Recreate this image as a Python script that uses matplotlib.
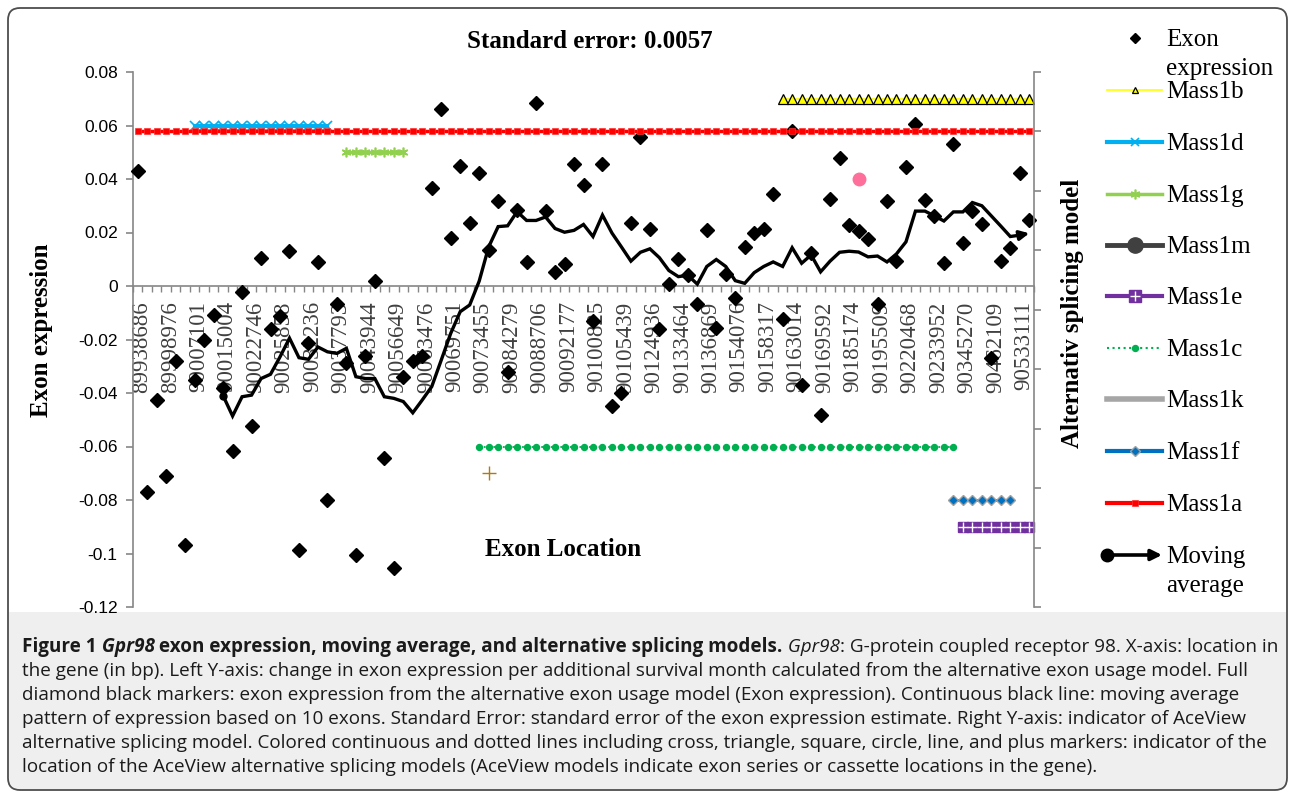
import matplotlib
matplotlib.use('Agg')
import matplotlib.pyplot as plt
import matplotlib.transforms as mtransforms
import numpy as np
from matplotlib.patches import FancyBboxPatch, Rectangle

W, H = 1293, 794

# exon expression, one value per exon (x = exon order)
exon_expr = [0.0430, -0.0771, -0.0425, -0.0709, -0.0280, -0.0970, -0.0351, -0.0202, -0.0108, -0.0382,
             -0.0617, -0.0022, -0.0524, 0.0106, -0.0162, -0.0112, 0.0132, -0.0988, -0.0212, 0.0090,
             -0.0800, -0.0068, -0.0287, -0.1007, -0.0263, 0.0018, -0.0643, -0.1056, -0.0340, -0.0279,
             -0.0262, 0.0368, 0.0662, 0.0179, 0.0450, 0.0235, 0.0423, 0.0135, 0.0318, -0.0320,
             0.0284, 0.0090, 0.0685, 0.0280, 0.0053, 0.0082, 0.0456, 0.0377, -0.0130, 0.0456,
             -0.0447, -0.0400, 0.0235, 0.0557, 0.0212, -0.0159, 0.0007, 0.0101, 0.0042, -0.0069,
             0.0209, -0.0156, 0.0046, -0.0046, 0.0146, 0.0198, 0.0214, 0.0344, -0.0122, 0.0580,
             -0.0370, 0.0122, -0.0483, 0.0327, 0.0479, 0.0229, 0.0205, 0.0175, -0.0066, 0.0318,
             0.0095, 0.0443, 0.0604, 0.0323, 0.0263, 0.0086, 0.0530, 0.0160, 0.0279, 0.0230,
             -0.0271, 0.0095, 0.0141, 0.0423, 0.0245]

# moving average over 10 exons, starts at the 10th exon
ma_start = 9
moving_avg = [-0.0410, -0.0486, -0.0414, -0.0408, -0.0346, -0.0330, -0.0265, -0.0195, -0.0268, -0.0274,
              -0.0228, -0.0246, -0.0252, -0.0233, -0.0339, -0.0346, -0.0346, -0.0414, -0.0420, -0.0432,
              -0.0474, -0.0426, -0.0376, -0.0277, -0.0177, -0.0096, -0.0071, 0.0018, 0.0146, 0.0222,
              0.0225, 0.0278, 0.0245, 0.0245, 0.0258, 0.0215, 0.0201, 0.0208, 0.0230, 0.0185,
              0.0265, 0.0198, 0.0146, 0.0093, 0.0126, 0.0139, 0.0106, 0.0058, 0.0035, 0.0040,
              0.0007, 0.0073, 0.0099, 0.0073, 0.0020, 0.0010, 0.0050, 0.0073, 0.0090, 0.0073,
              0.0143, 0.0085, 0.0116, 0.0053, 0.0093, 0.0126, 0.0130, 0.0127, 0.0109, 0.0112,
              0.0090, 0.0120, 0.0165, 0.0280, 0.0280, 0.0262, 0.0243, 0.0277, 0.0277, 0.0312,
              0.0300, 0.0262, 0.0224, 0.0185, 0.0190, 0.0197]

tick_pos = list(range(0, 95, 3))
tick_labels = ['89938686', '89998976', '90007101', '90015004', '90022746', '90025858', '90032236',
               '90037793', '90043944', '90056649', '90063476', '90069751', '90073455', '90084279',
               '90088706', '90092177', '90100825', '90105439', '90124936', '90133464', '90136869',
               '90154076', '90158317', '90163014', '90169592', '90185174', '90195509', '90220468',
               '90233952', '90345270', '90462109', '90533111']

# AceView splicing models: first exon, last exon, level drawn at
model_names = ['Mass1b', 'Mass1d', 'Mass1g', 'Mass1c', 'Mass1f', 'Mass1e', 'Mass1a']
model_first = [68, 6, 22, 36, 86, 87, 0]
model_last = [94, 20, 28, 86, 92, 94, 94]
model_level = [0.07, 0.06, 0.05, -0.06, -0.08, -0.09, 0.058]
# single-exon models
mass1m_pos, mass1m_level = [76], [0.04]
mass1k_pos, mass1k_level = [37], [-0.07]

yticks = [-0.12, -0.1, -0.08, -0.06, -0.04, -0.02, 0, 0.02, 0.04, 0.06, 0.08]
ytick_labels = ['-0.12', '-0.1', '-0.08', '-0.06', '-0.04', '-0.02', '0', '0.02', '0.04', '0.06', '0.08']

serif = 'Liberation Serif'
sans = 'Liberation Sans'
grey = '#868686'

styles = {
    'Mass1b': dict(color='#ffff00', lw=1.2, marker='^', ms=6.5, mfc='#ffff00', mec='black', mew=0.9),
    'Mass1d': dict(color='#00b0f0', lw=3.0, marker='x', ms=6.5, mew=1.2),
    'Mass1g': dict(color='#92d050', lw=2.5, marker=(6, 2, 0), ms=7, mew=1.2),
    'Mass1c': dict(color='#00b050', lw=1.3, ls=':', marker='o', ms=4.3),
    'Mass1f': dict(color='#0070c0', lw=2.0, marker='D', ms=5.5, mfc='#0070c0', mec='#a0a0a0', mew=1.0),
    'Mass1e': dict(color='#7030a0', lw=3.0, marker='s', ms=6.8, mfc='#7030a0', mec='#7030a0'),
    'Mass1a': dict(color='#ff0000', lw=2.5, marker='s', ms=5.0, mfc='#ff0000', mec='#ff3030', mew=0.5),
}

fig = plt.figure(figsize=(W / 100, H / 100), dpi=100)

# background overlay in pixel units: frame, caption strip, legend
bg = fig.add_axes([0, 0, 1, 1], zorder=0)
bg.set_xlim(0, W)
bg.set_ylim(H, 0)
bg.axis('off')
bg.add_patch(FancyBboxPatch((9, 590), 1277, 199, boxstyle='round,pad=0,rounding_size=11',
                            fc='#efefef', ec='none'))
bg.add_patch(Rectangle((9, 580), 1277, 32, fc='white', ec='none'))
bg.add_patch(FancyBboxPatch((8, 8), 1279, 782, boxstyle='round,pad=0,rounding_size=12',
                            fill=False, ec='#4d4d4d', lw=1.3))

ax = fig.add_axes([133 / W, 1 - 607 / H, (1034 - 133) / W, (607 - 72) / H], zorder=1)
ax.set_facecolor('none')
x = np.arange(len(exon_expr))

ax.plot(x, exon_expr, ls='none', marker='D', ms=7.5, color='black', zorder=4, clip_on=False)

xm = np.arange(ma_start, ma_start + len(moving_avg))
ax.plot(xm[:-1], moving_avg[:-1], color='black', lw=2.4, zorder=5, solid_joinstyle='miter')
ax.plot(xm[0], moving_avg[0], 'o', color='black', ms=5, zorder=5)
ax.annotate('', xy=(xm[-1], moving_avg[-1]), xytext=(xm[-2], moving_avg[-2]),
            arrowprops=dict(arrowstyle='-|>', color='black', lw=2.4, mutation_scale=14,
                            shrinkA=0, shrinkB=0), zorder=5)

for name, a, b, lev in zip(model_names, model_first, model_last, model_level):
    xs = np.arange(a, b + 1)
    z = 7 if name == 'Mass1a' else 6
    ax.plot(xs, [lev] * len(xs), zorder=z, clip_on=False, **styles[name])
    if name == 'Mass1e':
        ax.plot(xs, [lev] * len(xs), ls='none', marker='+', ms=6.5, mew=1.0, color='white',
                zorder=z, clip_on=False)

ax.plot(mass1m_pos, mass1m_level, ls='none', marker='o', ms=9, color='#ff6f9c', zorder=6)
ax.plot(mass1k_pos, mass1k_level, ls='none', marker='+', ms=10, mew=1.0, color='#b07a10', zorder=6)

ax.set_xlim(-0.5, 94.5)
ax.set_ylim(-0.12, 0.08)
ax.spines['top'].set_visible(False)
ax.spines['right'].set_visible(False)
ax.spines['bottom'].set_position(('data', 0))
for s in ('left', 'bottom'):
    ax.spines[s].set_color(grey)
    ax.spines[s].set_linewidth(1.2)

ax.set_yticks(yticks)
ax.set_yticklabels(ytick_labels, fontfamily=sans, fontsize=12.5)
ax.tick_params(axis='y', direction='out', length=5, width=1.2, color=grey, pad=6)

ax.set_xticks(tick_pos)
ax.set_xticklabels(tick_labels, rotation=90, fontfamily=serif, fontsize=16.5, color='#404040')
ax.set_xticks(np.arange(-0.5, 95, 1), minor=True)
ax.tick_params(axis='x', which='major', length=0, pad=11)
ax.tick_params(axis='x', which='minor', direction='out', length=4.5, width=1.0, color=grey)
shift = mtransforms.ScaledTranslation(4 / 100, 0, fig.dpi_scale_trans)
for lab in ax.get_xticklabels():
    lab.set_transform(lab.get_transform() + shift)

tw = ax.twinx()
tw.set_zorder(1)
tw.set_ylim(0, 9)
tw.set_yticks(range(10))
tw.set_yticklabels([])
for s in ('left', 'top', 'bottom'):
    tw.spines[s].set_visible(False)
tw.spines['right'].set_color(grey)
tw.spines['right'].set_linewidth(1.2)
tw.tick_params(axis='y', direction='out', length=5, width=1.2, color=grey)

# chart texts
fig.text(590 / W, 1 - 42 / H, 'Standard error: 0.0057', ha='center', va='center',
         fontfamily=serif, fontweight='bold', fontsize=18)
fig.text(42 / W, 1 - 330 / H, 'Exon expression', rotation=90, ha='center', va='center',
         fontfamily=serif, fontweight='bold', fontsize=18)
fig.text(1072 / W, 1 - 313 / H, 'Alternativ splicing model', rotation=90, ha='center', va='center',
         fontfamily=serif, fontweight='bold', fontsize=18)
fig.text(563 / W, 1 - 550 / H, 'Exon Location', ha='center', va='center',
         fontfamily=serif, fontweight='bold', fontsize=18)

# legend drawn by hand, Excel style
leg_names = [['Exon', 'expression'], ['Mass1b'], ['Mass1d'], ['Mass1g'], ['Mass1m'], ['Mass1e'],
             ['Mass1c'], ['Mass1k'], ['Mass1f'], ['Mass1a'], ['Moving', 'average']]
leg_y = [38, 90, 142, 194, 245, 296, 348, 399, 451, 503, 555]
hx0, hx1, hxm, tx = 1107, 1162, 1134.5, 1166
leg_style = dict(styles)
leg_style['Mass1b'] = dict(styles['Mass1b'], ms=5)
leg_style['Mass1d'] = dict(styles['Mass1d'], ms=6)
leg_style['Mass1m'] = dict(color='#404040', lw=3.5, marker='o', ms=11)
leg_style['Mass1e'] = dict(styles['Mass1e'], ms=8)
leg_style['Mass1c'] = dict(styles['Mass1c'], lw=1.5)
leg_style['Mass1k'] = dict(color='#a6a6a6', lw=4)
leg_style['Mass1f'] = dict(styles['Mass1f'], lw=3, ms=5)
leg_style['Mass1a'] = dict(styles['Mass1a'], lw=3)
for lines, yy in zip(leg_names, leg_y):
    key = lines[0]
    if key == 'Exon':
        bg.plot([hxm], [yy], 'D', color='black', ms=5)
    elif key == 'Moving':
        bg.annotate('', xy=(hx1, yy), xytext=(hx0, yy),
                    arrowprops=dict(arrowstyle='-|>', color='black', lw=2.6, mutation_scale=16,
                                    shrinkA=0, shrinkB=0))
        bg.plot([hx0], [yy], 'o', color='black', ms=9)
    else:
        st = leg_style[key]
        bg.plot([hx0, hxm, hx1], [yy] * 3, markevery=[1], **st)
        if key == 'Mass1e':
            bg.plot([hxm], [yy], '+', color='white', ms=7, mew=1.0)
    for k, txt in enumerate(lines):
        bg.text(tx, yy + 8 + 29 * k, txt, ha='left', va='baseline', fontfamily=serif, fontsize=18)

# caption
cap_font = 'Open Sans'
cap_size = 13.6
cap_color = '#1a1a1a'
renderer = fig.canvas.get_renderer()
line1 = [('Figure 1', 'bold', 'normal'), (' Gpr98', 'bold', 'italic'),
         (' exon expression, moving average, and alternative splicing models.', 'bold', 'normal'),
         (' Gpr98', 'normal', 'italic'), (': G-protein coupled receptor 98. X-axis: location in', 'normal', 'normal')]
cap_lines = ['the gene (in bp). Left Y-axis: change in exon expression per additional survival month calculated from the alternative exon usage model. Full',
             'diamond black markers: exon expression from the alternative exon usage model (Exon expression). Continuous black line: moving average',
             'pattern of expression based on 10 exons. Standard Error: standard error of the exon expression estimate. Right Y-axis: indicator of AceView',
             'alternative splicing model. Colored continuous and dotted lines including cross, triangle, square, circle, line, and plus markers: indicator of the',
             'location of the AceView alternative splicing models (AceView models indicate exon series or cassette locations in the gene).']
cx = 22
base = 652
for txt, wgt, sty in line1:
    t = bg.text(cx, base, txt, ha='left', va='baseline', fontfamily=cap_font, fontsize=cap_size,
                fontweight=wgt, fontstyle=sty, color=cap_color)
    bb = t.get_window_extent(renderer)
    cx += bb.width
for i, txt in enumerate(cap_lines):
    bg.text(22, base + 24 * (i + 1), txt, ha='left', va='baseline', fontfamily=cap_font,
            fontsize=cap_size, color=cap_color)

fig.savefig('out.png', dpi=100)
